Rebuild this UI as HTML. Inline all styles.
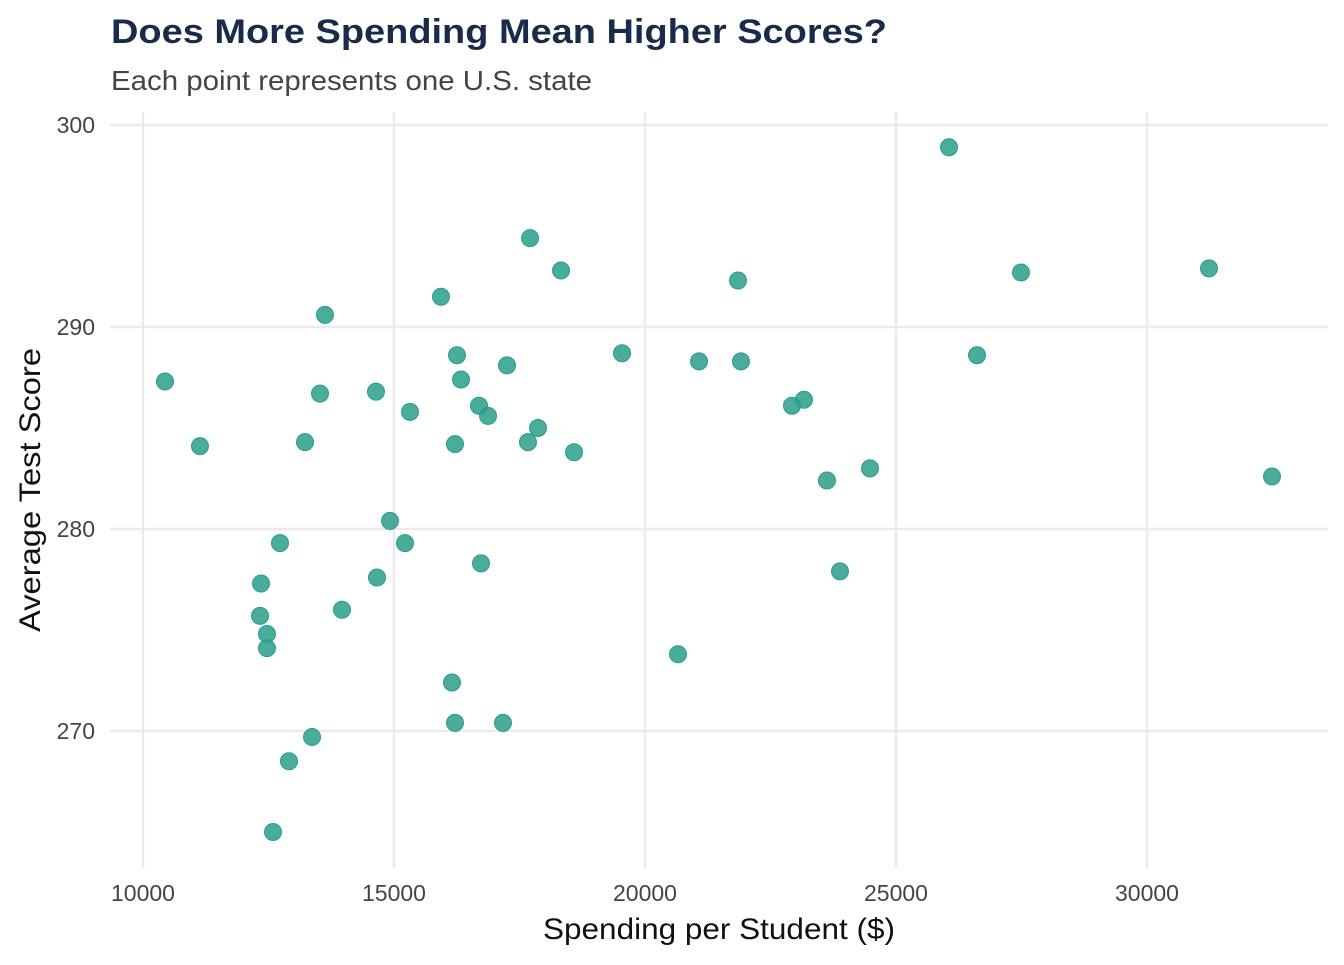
<!DOCTYPE html>
<html><head><meta charset="utf-8"><style>
body{margin:0;background:#fff;font-family:"Liberation Sans",sans-serif}
</style></head><body>
<svg id="chart" width="1344" height="960" xmlns="http://www.w3.org/2000/svg">
<text x="111" y="43" font-size="34" font-weight="bold" fill="#1a2a4a" font-family="Liberation Sans, sans-serif" textLength="776" lengthAdjust="spacingAndGlyphs">Does More Spending Mean Higher Scores?</text>
<text x="111" y="90" font-size="28" fill="#444" font-family="Liberation Sans, sans-serif" textLength="481" lengthAdjust="spacingAndGlyphs">Each point represents one U.S. state</text>
<g id="grid"></g><g id="points"></g>
<text x="719" y="939" font-size="30" text-anchor="middle" fill="#111" font-family="Liberation Sans, sans-serif" textLength="352" lengthAdjust="spacingAndGlyphs">Spending per Student ($)</text>
<text transform="translate(40,490) rotate(-90)" font-size="30" text-anchor="middle" fill="#111" font-family="Liberation Sans, sans-serif" textLength="284" lengthAdjust="spacingAndGlyphs">Average Test Score</text>
</svg>
<script>
const spending=[26056,17710,18327,15936,21853,27490,31235,13625,16255,19542,21076,21912,26614,10438,17251,16335,13526,14641,16693,16873,15319,22928,23167,17869,17669,13227,16215,11135,18586,24482,23625,32490,14920,15219,12729,16733,23884,14661,12351,13964,12331,12470,12470,20657,16155,16215,17171,13367,12908,12590];
const scores=[298.9,294.4,292.8,291.5,292.3,292.7,292.9,290.6,288.6,288.7,288.3,288.3,288.6,287.3,288.1,287.4,286.7,286.8,286.1,285.6,285.8,286.1,286.4,285.0,284.3,284.3,284.2,284.1,283.8,283.0,282.4,282.6,280.4,279.3,279.3,278.3,277.9,277.6,277.3,276.0,275.7,274.8,274.1,273.8,272.4,270.4,270.4,269.7,268.5,265.0];
const xTicks=[10000,15000,20000,25000,30000];
const yTicks=[270,280,290,300];
const xs=v=>143+(v-10000)/5000*251;
const ys=v=>125+(300-v)*20.2;
const NS="http://www.w3.org/2000/svg";
const grid=document.getElementById('grid'),pts=document.getElementById('points');
function mk(tag,at,parent){const e=document.createElementNS(NS,tag);for(const k in at)e.setAttribute(k,at[k]);parent.appendChild(e);return e;}
xTicks.forEach(t=>{
 const l=mk('line',{x1:xs(t),x2:xs(t),y1:112,y2:868,stroke:'#ebebeb','stroke-width':2.5},grid);
 
 
 const tx=mk('text',{x:xs(t),y:901,'font-size':23,'text-anchor':'middle',fill:'#444','font-family':'Liberation Sans, sans-serif'},grid);
 tx.textContent=t;
 
 
});
yTicks.forEach(t=>{
 const l=mk('line',{x1:110,x2:1328,y1:ys(t),y2:ys(t),stroke:'#ebebeb','stroke-width':2.5},grid);
 
 
 const tx=mk('text',{x:95,y:ys(t)+8,'font-size':23,'text-anchor':'end',fill:'#444','font-family':'Liberation Sans, sans-serif'},grid);
 tx.textContent=t;
 
 
});
spending.forEach((s,i)=>{
 const c=mk('circle',{cx:xs(s),cy:ys(scores[i]),r:8.5,fill:'#2a9d8a','fill-opacity':0.85,stroke:'#2a9d8a','stroke-width':1},pts);
 
 
});
</script>
</body></html>
